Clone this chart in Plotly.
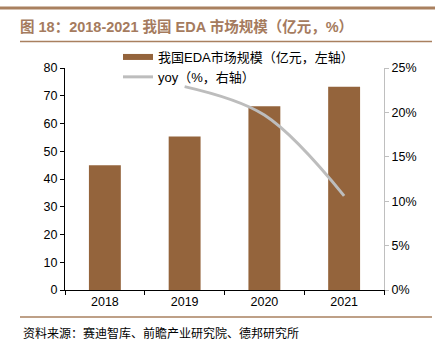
import plotly.graph_objects as go

years = ["2018", "2019", "2020", "2021"]
market = [45.0, 55.3, 66.2, 73.2]
yoy_years = ["2019", "2020", "2021"]
yoy = [22.9, 19.7, 10.6]

bar_name = "我国EDA市场规模（亿元，左轴）"
line_name = "yoy（%，右轴）"
title_text = "图 18：2018-2021 我国 EDA 市场规模（亿元，%）"
source_text = "资料来源：赛迪智库、前瞻产业研究院、德邦研究所"

FONT = "Liberation Sans, Arial, Noto Sans CJK SC, sans-serif"
BROWN = "#94643C"
TITLE_C = "#A57B5E"
LINE_C = "#A9805F"

W, H = 439, 350
L, R, T, B = 65, 55, 68, 60
pw, ph = W - L - R, H - T - B

def px(x):
    return (x - L) / pw

def py(y):
    return (H - B - y) / ph

fig = go.Figure()
fig.add_trace(go.Bar(x=years, y=market, name=bar_name, marker=dict(color=BROWN, line=dict(width=0)),
                     width=0.4, yaxis="y", showlegend=False))
# legend-only entry to show a wide bar swatch like the reference
fig.add_trace(go.Scatter(x=[None], y=[None], name=bar_name, mode="lines",
                         line=dict(color=BROWN, width=6), yaxis="y", legendrank=1))
fig.add_trace(go.Scatter(x=yoy_years, y=yoy, name=line_name, mode="lines",
                         line=dict(color="#BDBDBD", width=3, shape="spline", smoothing=1.0), yaxis="y2",
                         legendrank=2))

fig.update_layout(
    width=W, height=H,
    margin=dict(l=L, r=R, t=T, b=B),
    paper_bgcolor="white", plot_bgcolor="white",
    font=dict(family=FONT, size=12, color="black"),
    showlegend=True,
    legend=dict(x=px(118), y=py(42), xanchor="left", yanchor="top", bgcolor="rgba(0,0,0,0)",
                font=dict(size=13, family=FONT), tracegroupgap=0, itemwidth=30),
    title=dict(text=title_text, x=20 / W, xanchor="left", xref="container",
               y=1 - 27 / H, yanchor="middle", yref="container",
               font=dict(size=14.5, color=TITLE_C, family="Liberation Sans, Noto Sans CJK SC", weight="bold")),
    xaxis=dict(type="category", showline=True, linecolor="black", linewidth=1,
               ticks="outside", tickson="boundaries", ticklen=4, tickcolor="black",
               tickfont=dict(size=12.5), showgrid=False),
    yaxis=dict(range=[0, 80], dtick=10, showline=True, linecolor="black", linewidth=1,
               ticks="outside", ticklen=4, tickcolor="black", showgrid=False, zeroline=False,
               tickfont=dict(size=12.5)),
    yaxis2=dict(range=[0, 25], dtick=5, ticksuffix="%", overlaying="y", side="right",
                showline=True, linecolor="#BFBFBF", linewidth=1, ticks="outside", ticklen=4,
                tickcolor="#BFBFBF", showgrid=False, zeroline=False, tickfont=dict(size=12.5)),
    bargap=0.6,
)

shapes = [
    dict(type="line", xref="paper", yref="paper", x0=px(0), x1=px(435), y0=py(8), y1=py(8),
         line=dict(color=LINE_C, width=3)),
    dict(type="line", xref="paper", yref="paper", x0=px(20), x1=px(432), y0=py(41.5), y1=py(41.5),
         line=dict(color=LINE_C, width=1.5)),
    dict(type="line", xref="paper", yref="paper", x0=px(20), x1=px(432), y0=py(317), y1=py(317),
         line=dict(color=LINE_C, width=1.5)),
]
fig.update_layout(shapes=shapes)
fig.add_annotation(text=source_text, xref="paper", yref="paper", x=px(21), y=py(332),
                   xanchor="left", yanchor="middle", showarrow=False,
                   font=dict(size=12, family="Noto Sans CJK SC", color="black"))

fig.write_html("out.html")
